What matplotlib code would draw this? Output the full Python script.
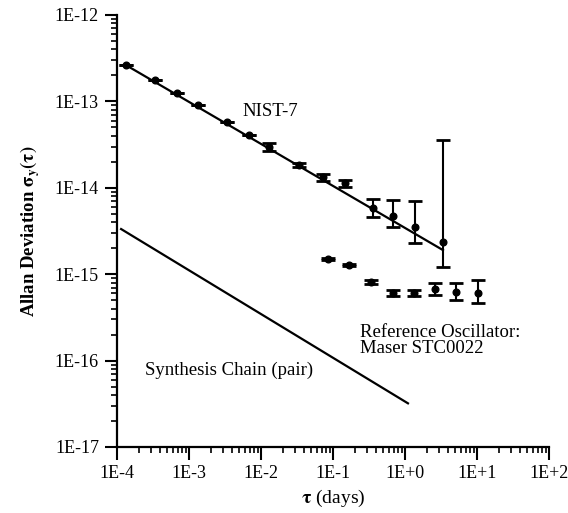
import matplotlib.pyplot as plt
import numpy as np
from matplotlib.ticker import FuncFormatter, FixedLocator, NullFormatter

plt.rcParams['font.family'] = ['Liberation Serif', 'DejaVu Serif']
plt.rcParams['mathtext.fontset'] = 'stix'

# NIST-7 measured points
nist_tau = [1.33e-4, 3.4e-4, 6.8e-4, 1.33e-3, 3.4e-3, 6.8e-3, 1.3e-2, 3.4e-2,
            7.3e-2, 0.147, 0.36, 0.68, 1.38, 3.37]
nist_sig = [2.63e-13, 1.77e-13, 1.25e-13, 9.1e-14, 5.8e-14, 4.1e-14, 2.97e-14,
            1.84e-14, 1.33e-14, 1.14e-14, 5.8e-15, 4.7e-15, 3.5e-15, 2.36e-15]
nist_lo = [2.63e-13, 1.77e-13, 1.25e-13, 9.1e-14, 5.8e-14, 4.1e-14, 2.7e-14,
           1.75e-14, 1.2e-14, 1.03e-14, 4.6e-15, 3.5e-15, 2.3e-15, 1.21e-15]
nist_hi = [2.63e-13, 1.77e-13, 1.25e-13, 9.1e-14, 5.8e-14, 4.1e-14, 3.3e-14,
           1.94e-14, 1.45e-14, 1.24e-14, 7.4e-15, 7.2e-15, 7.0e-15, 3.57e-14]

# fitted line through NIST-7
fit_tau = [1.33e-4, 3.37]
fit_sig = [2.63e-13, 1.9e-15]

# reference oscillator (maser)
ref_tau = [0.085, 0.167, 0.34, 0.68, 1.33, 2.6, 5.1, 10.3]
ref_sig = [1.5e-15, 1.28e-15, 8.1e-16, 6.05e-16, 6.05e-16, 6.7e-16, 6.3e-16, 6.1e-16]
ref_lo = [1.47e-15, 1.25e-15, 7.7e-16, 5.6e-16, 5.6e-16, 5.7e-16, 5.0e-16, 4.6e-16]
ref_hi = [1.53e-15, 1.31e-15, 8.5e-16, 6.5e-16, 6.5e-16, 7.9e-16, 8.0e-16, 8.6e-16]

# synthesis chain
syn_tau = [1.14e-4, 1.1]
syn_sig = [3.33e-15, 3.2e-17]

x_ticks = [1e-4, 1e-3, 1e-2, 1e-1, 1e0, 1e1, 1e2]
y_ticks = [1e-17, 1e-16, 1e-15, 1e-14, 1e-13, 1e-12]

fig = plt.figure(figsize=(5.68, 5.13), dpi=100)
ax = fig.add_axes([0.206, 0.1287, 0.7605, 0.8421])

ax.plot(fit_tau, fit_sig, color='black', lw=1.6)
ax.plot(syn_tau, syn_sig, color='black', lw=1.6)

nist_err = [np.array(nist_sig) - np.array(nist_lo), np.array(nist_hi) - np.array(nist_sig)]
ax.errorbar(nist_tau, nist_sig, yerr=nist_err, fmt='o', color='black', ms=4.8,
            capsize=4.8, elinewidth=1.5, capthick=2.0)
ref_err = [np.array(ref_sig) - np.array(ref_lo), np.array(ref_hi) - np.array(ref_sig)]
ax.errorbar(ref_tau, ref_sig, yerr=ref_err, fmt='o', color='black', ms=4.8,
            capsize=4.8, elinewidth=1.5, capthick=2.0)

ax.set_xscale('log')
ax.set_yscale('log')
ax.set_xlim(1e-4, 1e2)
ax.set_ylim(1e-17, 1e-12)

fmt = FuncFormatter(lambda v, p: '1E%+d' % int(round(np.log10(v))))
ax.xaxis.set_major_locator(FixedLocator(x_ticks))
ax.yaxis.set_major_locator(FixedLocator(y_ticks))
ax.xaxis.set_major_formatter(fmt)
ax.yaxis.set_major_formatter(fmt)
ax.xaxis.set_minor_locator(FixedLocator([m * t for t in x_ticks[:-1] for m in range(2, 10)]))
ax.yaxis.set_minor_locator(FixedLocator([m * t for t in y_ticks[:-1] for m in range(2, 10)]))
ax.xaxis.set_minor_formatter(NullFormatter())
ax.yaxis.set_minor_formatter(NullFormatter())

ax.spines['top'].set_visible(False)
ax.spines['right'].set_visible(False)
ax.spines['left'].set_linewidth(1.6)
ax.spines['bottom'].set_linewidth(1.6)
ax.tick_params(which='major', direction='out', length=9, width=1.5, labelsize=13, pad=4)
ax.tick_params(which='minor', direction='out', length=4.5, width=1.2)

ax.set_ylabel(r'Allan Deviation $\mathbf{\sigma_y(\tau)}$', fontsize=13.5, fontweight='bold', labelpad=9)
ax.set_xlabel(r'$\mathbf{\tau}$ (days)', fontsize=14, labelpad=4)

ax.text(0.0133, 7.6e-14, 'NIST-7', fontsize=13.5, ha='center', va='center')
ax.text(0.24, 1.7e-16, 'Reference Oscillator:\nMaser STC0022', fontsize=13.5,
        ha='left', va='center', linespacing=0.95)
ax.text(2.45e-4, 7.8e-17, 'Synthesis Chain (pair)', fontsize=13.5, ha='left', va='center')

fig.savefig('out.png', dpi=100)
